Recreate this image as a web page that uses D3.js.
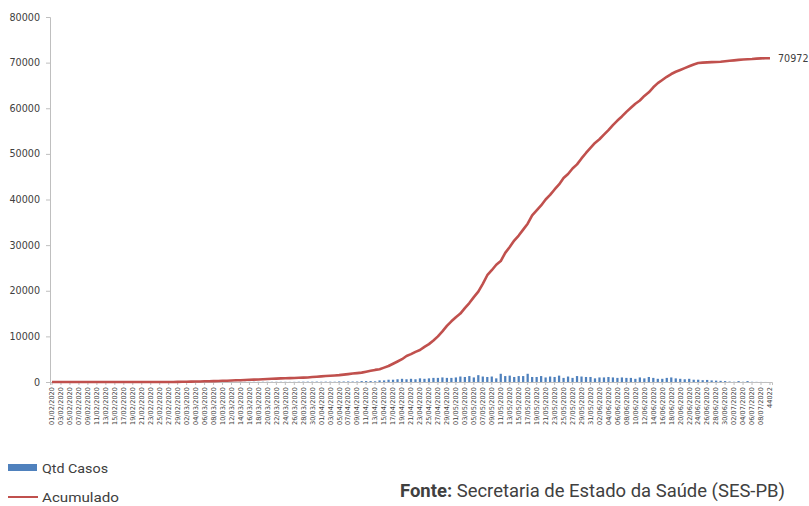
<!DOCTYPE html>
<html>
<head>
<meta charset="utf-8">
<script src="https://cdn.jsdelivr.net/npm/d3@7"></script>
<style>
  body { margin: 0; background: #fff; }
  svg { display: block; }
</style>
</head>
<body>
<div id="plotContainer"></div>
<script>
// daily new cases (Qtd Casos), one per day from 01/02/2020
const qtdCasos = [
  0,0,0,0,0,0,0,0,0,0, 0,0,0,0,0,0,0,0,0,0, 0,0,0,0,0,0,0,0,
  5,10,8,12,15,10,20,18,25,20,30,25,35,30,40,35,40,45,40,50,45,40,50,45,40,30,35,
  60,70,80,70,90,60,80,70,60,120,110,120,100,100,200,200,200,150,350,350,500,500,
  600,700,600,700,600,800,700,800,900,900,1000,900,900,1000,1200,1100,1300,1000,1500,1200,
  1100,1200,800,1800,1300,1400,1100,1300,1300,1800,1100,1100,1300,1000,1200,1100,1400,900,1200,900,
  1300,1200,1100,1100,800,1000,1000,1100,1000,900,1000,900,900,700,1000,800,1100,900,700,700,
  900,1000,800,700,600,700,500,500,400,450,350,300,250,200,100,50,200,50,200,50,30,20,10,0
];

// accumulated cases (Acumulado)
const acumulado = [
  0,0,0,0,0,0,0,0,0,0, 0,0,0,0,0,0,0,0,0,0, 0,0,0,0,0,0,0,0,
  20,40,60,80,100,120,150,180,200,230,260,290,330,370,400,440,480,520,560,600,
  650,700,750,800,830,860,890,920,960,1000,1080,1150,1230,1300,1380,1440,1500,1620,1730,1850,
  1950,2050,2250,2450,2650,2800,3150,3500,4000,4500,5000,5700,6100,6600,7000,7700,8300,9100,10000,11100,
  12300,13300,14200,15000,16200,17300,18600,19800,21500,23400,24500,25700,26500,28300,29600,31000,32100,33400,34700,36500,
  37600,38700,40000,41000,42200,43300,44700,45600,46800,47700,49000,50200,51300,52400,53200,54200,55200,56300,57300,58200,
  59200,60100,61000,61700,62700,63500,64600,65500,66200,66900,67500,68000,68400,68800,69200,69600,69900,70000,70050,70100,
  70150,70200,70300,70400,70500,70600,70700,70750,70800,70880,70930,70960,70972
];

const startDate = new Date(2020, 1, 1);
const lastLabel = "44022";
const yTicks = [0, 10000, 20000, 30000, 40000, 50000, 60000, 70000, 80000];
const seriesNames = ["Qtd Casos", "Acumulado"];
const fonte = "Secretaria de Estado da Saúde (SES-PB)";

const W = 809, H = 506;
const fmt = d3.timeFormat("%d/%m/%Y");
const days = d3.range(acumulado.length);
const labels = days.map(i => i === days.length - 1 ? lastLabel : fmt(d3.timeDay.offset(startDate, i)));

const svg = d3.select("#plotContainer")
  .append("svg")
    .attr("width", W)
    .attr("height", H);

const x = d3.scaleBand()
  .domain(days)
  .range([50, 772])
  .paddingInner(0.5)
  .paddingOuter(0.2);

const y = d3.scaleLinear()
  .domain([0, 80000])
  .range([382, 17]);

// y axis
const yAxis = svg.append("g")
  .attr("transform", "translate(50,0)")
  .call(d3.axisLeft(y).tickValues(yTicks).tickSize(4).tickPadding(6).tickFormat(d3.format("d")));
yAxis.select(".domain").attr("stroke", "#bfbfbf");
yAxis.selectAll(".tick line").attr("stroke", "#bfbfbf");
yAxis.selectAll("text")
  .attr("fill", "#404040")
  .style("font-family", "DejaVu Sans, Verdana, sans-serif")
  .style("font-size", "9.6px");

// bars
svg.append("g")
  .selectAll("rect")
  .data(qtdCasos)
  .join("rect")
    .attr("x", (d, i) => x(i))
    .attr("y", d => y(d))
    .attr("width", x.bandwidth())
    .attr("height", d => y(0) - y(d))
    .attr("fill", "#4f81bd");

// x axis
const xAxis = svg.append("g")
  .attr("transform", "translate(0,382)")
  .call(d3.axisBottom(x)
    .tickValues(days.filter(i => i % 2 === 0))
    .tickSize(3)
    .tickFormat(i => labels[i]));
xAxis.select(".domain").attr("stroke", "#bfbfbf");
xAxis.selectAll(".tick line").attr("stroke", "#bfbfbf");
xAxis.selectAll("text")
  .attr("fill", "#404040")
  .attr("transform", "rotate(-90)")
  .attr("text-anchor", "end")
  .attr("x", -5)
  .attr("y", 0)
  .attr("dy", "0.35em")
  .style("font-family", "DejaVu Sans, Verdana, sans-serif")
  .style("font-size", "6.6px");

// accumulated line
const cx = i => x(i) + x.bandwidth() / 2;
svg.append("path")
  .datum(acumulado)
  .attr("d", d3.line().x((d, i) => cx(i)).y(d => y(d)))
  .attr("fill", "none")
  .attr("stroke", "#c0504d")
  .attr("stroke-width", 2.6)
  .attr("stroke-linejoin", "round");

// end label
const last = acumulado.length - 1;
svg.append("text")
  .attr("x", cx(last) + 8)
  .attr("y", y(acumulado[last]))
  .attr("dy", "0.35em")
  .attr("fill", "#404040")
  .style("font-family", "DejaVu Sans, Verdana, sans-serif")
  .style("font-size", "9.6px")
  .text(acumulado[last]);

// legend
const legend = svg.append("g")
  .style("font-family", "Roboto, 'Open Sans', sans-serif")
  .style("font-size", "13px")
  .attr("fill", "#404040");
legend.append("rect")
  .attr("x", 8).attr("y", 464).attr("width", 29).attr("height", 7)
  .attr("fill", "#4f81bd");
legend.append("text")
  .attr("x", 42).attr("y", 468).attr("dy", "0.35em")
  .attr("textLength", 66).attr("lengthAdjust", "spacingAndGlyphs")
  .text(seriesNames[0]);
legend.append("line")
  .attr("x1", 8).attr("x2", 38).attr("y1", 497).attr("y2", 497)
  .attr("stroke", "#c0504d").attr("stroke-width", 2);
legend.append("text")
  .attr("x", 42).attr("y", 497).attr("dy", "0.35em")
  .attr("textLength", 77).attr("lengthAdjust", "spacingAndGlyphs")
  .text(seriesNames[1]);

// source
const src = svg.append("text")
  .attr("x", 400)
  .attr("y", 497)
  .attr("textLength", 385)
  .attr("lengthAdjust", "spacingAndGlyphs")
  .attr("fill", "#404040")
  .style("font-family", "Roboto, 'Open Sans', sans-serif")
  .style("font-size", "19px");
src.append("tspan").attr("font-weight", "bold").text("Fonte: ");
src.append("tspan").text(fonte);
</script>
</body>
</html>
